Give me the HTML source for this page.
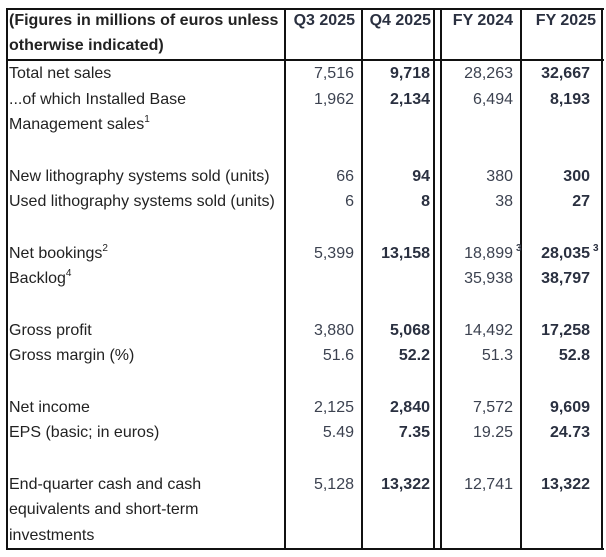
<!DOCTYPE html>
<html><head><meta charset="utf-8">
<style>
body{margin:0;width:606px;height:557px;background:#fff;position:relative;overflow:hidden;font-family:"Liberation Sans",Arial,sans-serif;font-size:16px;color:#222;}
.v{position:absolute;width:2px;background:#111;}
.h{position:absolute;height:2px;background:#111;}
.t{position:absolute;line-height:18px;white-space:nowrap;}
.n{color:#3c4250;text-align:right;}
.b{font-weight:bold;color:#2a3040;}
sup{font-size:10px;line-height:0;vertical-align:7px;}
.n sup{position:absolute;left:100%;top:-1px;line-height:10px;vertical-align:baseline;margin-left:3px;font-weight:bold;}
</style></head>
<body>
<div class="h" style="left:6px;top:8px;width:598px"></div>
<div class="h" style="left:6px;top:59px;width:598px"></div>
<div class="h" style="left:6px;top:548px;width:598px"></div>
<div class="v" style="left:6px;top:8px;height:542px"></div>
<div class="v" style="left:284px;top:8px;height:542px"></div>
<div class="v" style="left:361px;top:8px;height:542px"></div>
<div class="v" style="left:433px;top:8px;height:542px"></div>
<div class="v" style="left:440px;top:8px;height:542px"></div>
<div class="v" style="left:520px;top:8px;height:542px"></div>
<div class="v" style="left:601px;top:8px;height:542px"></div>

<div class="t b" style="left:9px;top:12px;color:#222">(Figures in millions of euros unless</div>
<div class="t b" style="left:9px;top:37px;color:#222">otherwise indicated)</div>
<div class="t b n" style="right:251px;top:12px">Q3 2025</div>
<div class="t b n" style="right:175px;top:12px">Q4 2025</div>
<div class="t b n" style="right:93px;top:12px">FY 2024</div>
<div class="t b n" style="right:10px;top:12px">FY 2025</div>

<div id="rows"></div>
<script>
const labels=[[0,"Total net sales"],[1,"...of which Installed Base"],[2,"Management sales<sup>1</sup>"],[4,"New lithography systems sold (units)"],[5,"Used lithography systems sold (units)"],[7,"Net bookings<sup>2</sup>"],[8,"Backlog<sup>4</sup>"],[10,"Gross profit"],[11,"Gross margin (%)"],[13,"Net income"],[14,"EPS (basic; in euros)"],[16,"End-quarter cash and cash"],[17,"equivalents and short-term"],[18,"investments"]];
const q3=[[0,"7,516"],[1,"1,962"],[4,"66"],[5,"6"],[7,"5,399"],[10,"3,880"],[11,"51.6"],[13,"2,125"],[14,"5.49"],[16,"5,128"]];
const q4=[[0,"9,718"],[1,"2,134"],[4,"94"],[5,"8"],[7,"13,158"],[10,"5,068"],[11,"52.2"],[13,"2,840"],[14,"7.35"],[16,"13,322"]];
const fy24=[[0,"28,263"],[1,"6,494"],[4,"380"],[5,"38"],[7,"18,899<sup>3</sup>"],[8,"35,938"],[10,"14,492"],[11,"51.3"],[13,"7,572"],[14,"19.25"],[16,"12,741"]];
const fy25=[[0,"32,667"],[1,"8,193"],[4,"300"],[5,"27"],[7,"28,035<sup>3</sup>"],[8,"38,797"],[10,"17,258"],[11,"52.8"],[13,"9,609"],[14,"24.73"],[16,"13,322"]];
const root=document.getElementById('rows');
function y(i){return 65+i*25.67;}
function add(arr,cls,pos,name){
 arr.forEach(function(r){
  const d=document.createElement('div');
  d.className='t '+cls;
  d.style.top=y(r[0])+'px';
  if(pos.left!==undefined)d.style.left=pos.left+'px';
  else d.style.right=pos.right+'px';
  d.innerHTML=r[1];
  
  
  root.appendChild(d);
 });
}
add(labels,'',{left:9},'row-label');
add(q3,'n',{right:252},'q3-value');
add(q4,'n b',{right:176},'q4-value');
add(fy24,'n',{right:93},'fy24-value');
add(fy25,'n b',{right:16},'fy25-value');
</script>
</body></html>
